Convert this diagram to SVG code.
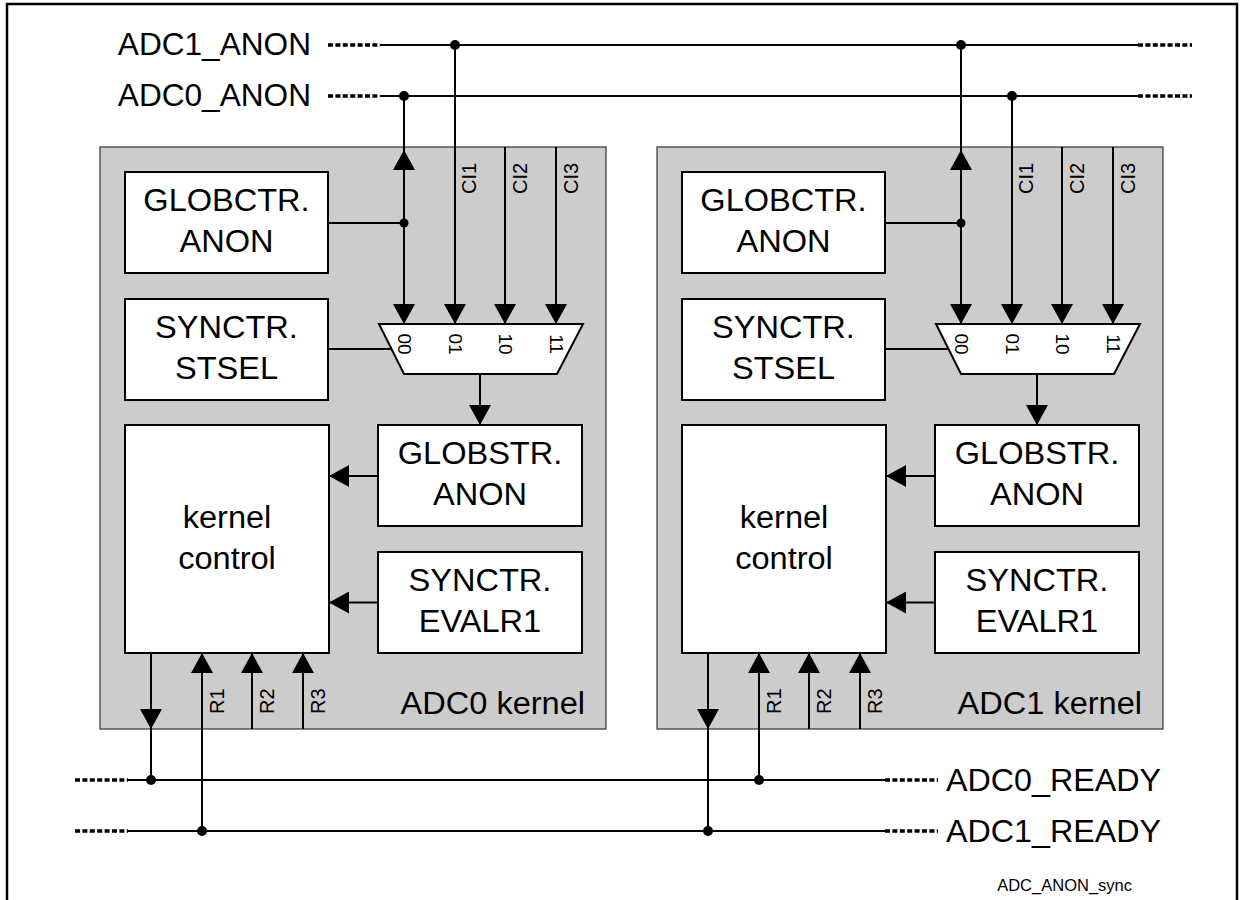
<svg xmlns="http://www.w3.org/2000/svg" width="1241" height="900" viewBox="0 0 1241 900">
<style>
.t{font-family:"Liberation Sans",Arial,sans-serif;fill:#000}
.big{font-size:31px}
.sm{font-size:20px}
.mx{font-size:19px}
.tiny{font-size:16.5px}
.ln{stroke:#000;stroke-width:2;fill:none}
.dot{stroke:#000;stroke-width:3.5;stroke-dasharray:5 2.4;fill:none}
.kern{fill:#cccccc;stroke:#333;stroke-width:1.2}
.box{fill:#fff;stroke:#000;stroke-width:2}
.arr{stroke:#000;stroke-width:2;fill:none;marker-end:url(#ah)}
</style>
<defs>
<marker id="ah" viewBox="0 0 20 22" refX="20" refY="11" markerWidth="20" markerHeight="22" markerUnits="userSpaceOnUse" orient="auto">
<path d="M0,0 L20,11 L0,22 z" fill="#000"/>
</marker>
</defs>
<rect width="1241" height="900" fill="#fff"/>
<path d="M7,900 V4 H1237 V900" fill="none" stroke="#000" stroke-width="2.5"/>

<g id="label-adc1-anon"><text class="t big" transform="translate(311 55) scale(1.02 1)" text-anchor="end">ADC1_ANON</text></g>
<g id="label-adc0-anon"><text class="t big" transform="translate(311 106) scale(1.02 1)" text-anchor="end">ADC0_ANON</text></g>
<g id="label-adc0-ready"><text class="t big" transform="translate(946 791) scale(1.04 1)">ADC0_READY</text></g>
<g id="label-adc1-ready"><text class="t big" transform="translate(946 842) scale(1.04 1)">ADC1_READY</text></g>
<g id="caption"><text class="t tiny" x="1132" y="891" text-anchor="end">ADC_ANON_sync</text></g>

<g id="kernel0">
<rect class="kern" x="100" y="147" width="506" height="582"/>
<text class="t big" transform="translate(585 714) scale(1.05 1)" text-anchor="end">ADC0 kernel</text>
<g id="k0-globctr"><rect class="box" x="125" y="172" width="203" height="101"/>
<text class="t big" transform="translate(226.5 211) scale(1.05 1)" text-anchor="middle">GLOBCTR.</text>
<text class="t big" transform="translate(226.5 252) scale(1.05 1)" text-anchor="middle">ANON</text></g>
<g id="k0-synctr-stsel"><rect class="box" x="125" y="299" width="203" height="101"/>
<text class="t big" transform="translate(226.5 338) scale(1.05 1)" text-anchor="middle">SYNCTR.</text>
<text class="t big" transform="translate(226.5 379) scale(1.05 1)" text-anchor="middle">STSEL</text></g>
<g id="k0-kernel-control"><rect class="box" x="125" y="425" width="204" height="228"/>
<text class="t big" transform="translate(227 528) scale(1.05 1)" text-anchor="middle">kernel</text>
<text class="t big" transform="translate(227 569) scale(1.05 1)" text-anchor="middle">control</text></g>
<g id="k0-globstr"><rect class="box" x="378" y="425" width="204" height="101"/>
<text class="t big" transform="translate(480 464) scale(1.05 1)" text-anchor="middle">GLOBSTR.</text>
<text class="t big" transform="translate(480 505) scale(1.05 1)" text-anchor="middle">ANON</text></g>
<g id="k0-evalr1"><rect class="box" x="378" y="552" width="204" height="101"/>
<text class="t big" transform="translate(480 591) scale(1.05 1)" text-anchor="middle">SYNCTR.</text>
<text class="t big" transform="translate(480 632) scale(1.05 1)" text-anchor="middle">EVALR1</text></g>
<g id="k0-mux"><polygon class="box" points="379,324 583,324 557,374 404,374"/>
<text class="t mx" transform="translate(397.5,344) rotate(90)" text-anchor="middle">00</text>
<text class="t mx" transform="translate(448.5,344) rotate(90)" text-anchor="middle">01</text>
<text class="t mx" transform="translate(498.5,344) rotate(90)" text-anchor="middle">10</text>
<text class="t mx" transform="translate(549.5,344) rotate(90)" text-anchor="middle">11</text></g>
<text class="t sm" transform="translate(476,194) rotate(-90)">CI1</text>
<text class="t sm" transform="translate(527,194) rotate(-90)">CI2</text>
<text class="t sm" transform="translate(578,194) rotate(-90)">CI3</text>
<text class="t sm" transform="translate(224,714) rotate(-90)">R1</text>
<text class="t sm" transform="translate(274,714) rotate(-90)">R2</text>
<text class="t sm" transform="translate(325,714) rotate(-90)">R3</text>
</g>

<g id="kernel1">
<rect class="kern" x="657" y="147" width="506" height="582"/>
<text class="t big" transform="translate(1142 714) scale(1.05 1)" text-anchor="end">ADC1 kernel</text>
<g id="k1-globctr"><rect class="box" x="682" y="172" width="203" height="101"/>
<text class="t big" transform="translate(783.5 211) scale(1.05 1)" text-anchor="middle">GLOBCTR.</text>
<text class="t big" transform="translate(783.5 252) scale(1.05 1)" text-anchor="middle">ANON</text></g>
<g id="k1-synctr-stsel"><rect class="box" x="682" y="299" width="203" height="101"/>
<text class="t big" transform="translate(783.5 338) scale(1.05 1)" text-anchor="middle">SYNCTR.</text>
<text class="t big" transform="translate(783.5 379) scale(1.05 1)" text-anchor="middle">STSEL</text></g>
<g id="k1-kernel-control"><rect class="box" x="682" y="425" width="204" height="228"/>
<text class="t big" transform="translate(784 528) scale(1.05 1)" text-anchor="middle">kernel</text>
<text class="t big" transform="translate(784 569) scale(1.05 1)" text-anchor="middle">control</text></g>
<g id="k1-globstr"><rect class="box" x="935" y="425" width="204" height="101"/>
<text class="t big" transform="translate(1037 464) scale(1.05 1)" text-anchor="middle">GLOBSTR.</text>
<text class="t big" transform="translate(1037 505) scale(1.05 1)" text-anchor="middle">ANON</text></g>
<g id="k1-evalr1"><rect class="box" x="935" y="552" width="204" height="101"/>
<text class="t big" transform="translate(1037 591) scale(1.05 1)" text-anchor="middle">SYNCTR.</text>
<text class="t big" transform="translate(1037 632) scale(1.05 1)" text-anchor="middle">EVALR1</text></g>
<g id="k1-mux"><polygon class="box" points="936,324 1140,324 1114,374 961,374"/>
<text class="t mx" transform="translate(954.5,344) rotate(90)" text-anchor="middle">00</text>
<text class="t mx" transform="translate(1005.5,344) rotate(90)" text-anchor="middle">01</text>
<text class="t mx" transform="translate(1055.5,344) rotate(90)" text-anchor="middle">10</text>
<text class="t mx" transform="translate(1106.5,344) rotate(90)" text-anchor="middle">11</text></g>
<text class="t sm" transform="translate(1033,194) rotate(-90)">CI1</text>
<text class="t sm" transform="translate(1084,194) rotate(-90)">CI2</text>
<text class="t sm" transform="translate(1135,194) rotate(-90)">CI3</text>
<text class="t sm" transform="translate(781,714) rotate(-90)">R1</text>
<text class="t sm" transform="translate(831,714) rotate(-90)">R2</text>
<text class="t sm" transform="translate(882,714) rotate(-90)">R3</text>
</g>

<g id="connectors">
<path class="ln" d="M380,45 H1138 M380,96 H1138 M128,780 H885 M128,831 H885"/>
<path class="dot" d="M328,45 H380 M328,96 H380 M1138,45 H1192 M1138,96 H1192 M75,780 H128 M75,831 H128 M885,780 H938 M885,831 H938"/>
<path class="ln" d="M404,96 V150 M328,223 H404 M328,349 H391.5 M151,728 V780"/>
<path class="arr" d="M404,223 V150"/>
<path class="arr" d="M404,223 V324"/>
<path class="arr" d="M455,45 V324"/>
<path class="arr" d="M505,147 V324"/>
<path class="arr" d="M556,147 V324"/>
<path class="arr" d="M480,374 V425"/>
<path class="arr" d="M378,476 H329"/>
<path class="arr" d="M378,602.5 H329"/>
<path class="arr" d="M151,653 V729"/>
<path class="arr" d="M202,831 V653"/>
<path class="arr" d="M252,729 V653"/>
<path class="arr" d="M303,729 V653"/>
<path class="ln" d="M961,45 V150 M885,223 H961 M885,349 H948.5 M708,728 V831"/>
<path class="arr" d="M961,223 V150"/>
<path class="arr" d="M961,223 V324"/>
<path class="arr" d="M1012,96 V324"/>
<path class="arr" d="M1062,147 V324"/>
<path class="arr" d="M1113,147 V324"/>
<path class="arr" d="M1037,374 V425"/>
<path class="arr" d="M935,476 H886"/>
<path class="arr" d="M935,602.5 H886"/>
<path class="arr" d="M708,653 V729"/>
<path class="arr" d="M759,780 V653"/>
<path class="arr" d="M809,729 V653"/>
<path class="arr" d="M860,729 V653"/>
<g fill="#000">
<circle cx="455" cy="45" r="5"/>
<circle cx="404" cy="96" r="5"/>
<circle cx="961" cy="45" r="5"/>
<circle cx="1012" cy="96" r="5"/>
<circle cx="404" cy="223" r="4.5"/>
<circle cx="961" cy="223" r="4.5"/>
<circle cx="151" cy="780" r="5"/>
<circle cx="202" cy="831" r="5"/>
<circle cx="759" cy="780" r="5"/>
<circle cx="708" cy="831" r="5"/>
</g>
</g>
</svg>
